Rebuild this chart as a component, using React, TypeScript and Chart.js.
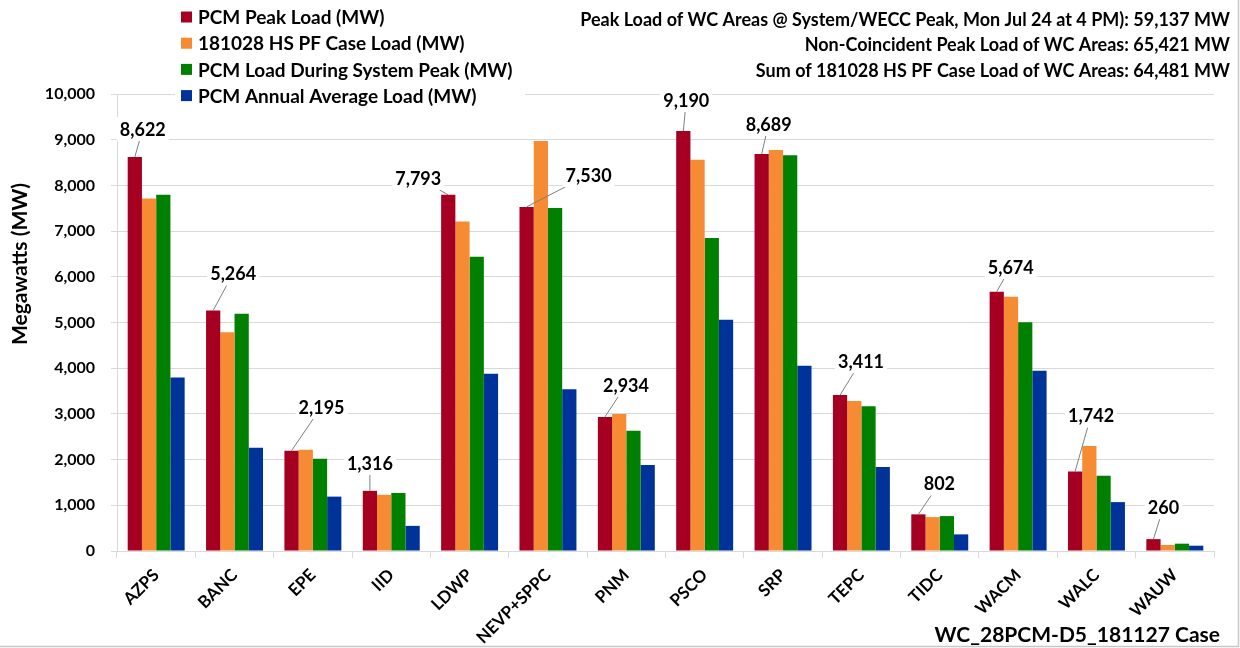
import React, { useEffect, useRef } from "react";
import { Chart, registerables } from "chart.js";

Chart.register(...registerables);

const areas = ["AZPS", "BANC", "EPE", "IID", "LDWP", "NEVP+SPPC", "PNM", "PSCO", "SRP", "TEPC", "TIDC", "WACM", "WALC", "WAUW"];
const pcmPeakLoad = [8622, 5264, 2195, 1316, 7793, 7530, 2934, 9190, 8689, 3411, 802, 5674, 1742, 260];
const hsPfCaseLoad = [7714, 4788, 2215, 1230, 7212, 8974, 2998, 8559, 8777, 3280, 742, 5561, 2299, 131];
const pcmLoadAtSystemPeak = [7795, 5190, 2020, 1270, 6441, 7504, 2630, 6849, 8661, 3170, 764, 5007, 1644, 160];
const pcmAnnualAverageLoad = [3799, 2260, 1190, 550, 3880, 3537, 1882, 5059, 4054, 1838, 364, 3945, 1070, 116];
const seriesLabels = [
  "PCM Peak Load (MW)",
  "181028 HS PF Case Load (MW)",
  "PCM Load During System Peak (MW)",
  "PCM Annual Average Load (MW)",
];
const yTickValues = [0, 1000, 2000, 3000, 4000, 5000, 6000, 7000, 8000, 9000, 10000];
const summaryLines = [
  "Peak Load of WC Areas @ System/WECC Peak, Mon Jul 24 at 4 PM): 59,137 MW",
  "Non-Coincident Peak Load of WC Areas: 65,421 MW",
  "Sum of 181028 HS PF Case Load of WC Areas: 64,481 MW",
];
const caseLabel = "WC_28PCM-D5_181127 Case";
const yAxisTitle = "Megawatts (MW)";

const colors = ["#A50021", "#F68B33", "#008000", "#003399"];
// callout offsets (px) of each peak-load label from its bar top
const calloutOffsets: [number, number][] = [
  [8, -28], [20, -37], [30, -44], [0, -28], [-30, -17], [62, -32], [21, -32],
  [3, -31], [7, -30], [21, -34], [21, -31], [14, -25], [16, -56], [10, -32],
];

const FONT = "Lato";
const fmt = (v: number) => Number(v).toLocaleString("en-US");

const decorPlugin = {
  id: "decor",
  afterDatasetsDraw(chart: any) {
    const ctx = chart.ctx as CanvasRenderingContext2D;
    ctx.save();

    // peak-load callouts
    const meta = chart.getDatasetMeta(0);
    ctx.font = `bold 18px ${FONT}`;
    ctx.textAlign = "center";
    ctx.textBaseline = "middle";
    meta.data.forEach((el: any, i: number) => {
      const v = chart.data.datasets[0].data[i];
      const txt = fmt(v);
      const [dx, dy] = calloutOffsets[i];
      const ax = el.x, ay = el.y;
      const cx = ax + dx, cy = ay + dy;
      const w = ctx.measureText(txt).width;
      const hx = w / 2 + 3, hy = 12;
      const f = Math.min(dx === 0 ? Infinity : hx / Math.abs(dx), dy === 0 ? Infinity : hy / Math.abs(dy));
      const t = 1 - f;
      if (t > 0) {
        ctx.strokeStyle = "#7f7f7f";
        ctx.lineWidth = 1;
        ctx.beginPath();
        ctx.moveTo(ax, ay);
        ctx.lineTo(ax + dx * t, ay + dy * t);
        ctx.stroke();
      }
      ctx.fillStyle = "#ffffff";
      ctx.fillRect(cx - hx, cy - hy, hx * 2, hy * 2);
      ctx.fillStyle = "#000000";
      ctx.fillText(txt, cx, cy + 1);
    });

    // legend
    ctx.fillStyle = "#ffffff";
    ctx.fillRect(175, 0, 350, 108);
    ctx.font = `bold 19px ${FONT}`;
    ctx.textAlign = "left";
    ctx.textBaseline = "middle";
    chart.data.datasets.forEach((ds: any, i: number) => {
      const y = 17 + i * 26.2;
      ctx.fillStyle = ds.backgroundColor;
      ctx.fillRect(181, y - 5.5, 11, 11);
      ctx.fillStyle = "#000000";
      ctx.fillText(ds.label, 198, y + 1);
    });

    // summary text (top right)
    ctx.font = `bold 18px ${FONT}`;
    ctx.textAlign = "right";
    summaryLines.forEach((line, i) => {
      ctx.fillText(line, 1230, 20 + i * 25.5);
    });

    // case label (bottom right)
    ctx.font = `bold 21px ${FONT}`;
    ctx.fillText(caseLabel, 1220, 635);

    // y axis title
    ctx.save();
    ctx.translate(20, 264);
    ctx.rotate(-Math.PI / 2);
    ctx.textAlign = "center";
    ctx.font = `bold 21px ${FONT}`;
    ctx.fillText(yAxisTitle, 0, 0);
    ctx.restore();

    // frame
    ctx.strokeStyle = "#c8c8c8";
    ctx.lineWidth = 1.5;
    ctx.beginPath();
    ctx.moveTo(1238.5, 0);
    ctx.lineTo(1238.5, 646.5);
    ctx.lineTo(0, 646.5);
    ctx.stroke();

    ctx.restore();
  },
};

export default function App() {
  const ref = useRef<HTMLCanvasElement>(null);
  useEffect(() => {
    Chart.defaults.font.family = FONT;
    Chart.defaults.font.weight = "bold";
    Chart.defaults.color = "#000000";
    const series = [pcmPeakLoad, hsPfCaseLoad, pcmLoadAtSystemPeak, pcmAnnualAverageLoad];
    const chart = new Chart(ref.current!, {
      type: "bar",
      data: {
        labels: areas,
        datasets: series.map((d, i) => ({
          label: seriesLabels[i],
          data: d,
          backgroundColor: colors[i],
          borderWidth: 0,
          barPercentage: 1.0,
          categoryPercentage: 0.727,
        })),
      },
      options: {
        animation: false,
        responsive: true,
        maintainAspectRatio: false,
        layout: { padding: { top: 94, right: 26, left: 0, bottom: 0 } },
        plugins: {
          legend: { display: false },
          tooltip: { enabled: false },
          title: { display: false },
        },
        scales: {
          x: {
            afterFit: (s: any) => { s.height = 97; },
            grid: {
              offset: true,
              drawOnChartArea: false,
              drawTicks: true,
              tickLength: 7,
              color: "#d9d9d9",
            },
            border: { display: true, color: "#d9d9d9" },
            ticks: {
              minRotation: 45,
              maxRotation: 45,
              autoSkip: false,
              font: { family: FONT, size: 17, weight: "bold" },
              color: "#000000",
              padding: 7,
            },
          },
          y: {
            min: 0,
            max: 10000,
            afterFit: (s: any) => { s.width = 117; },
            afterBuildTicks: (s: any) => { s.ticks = yTickValues.map((v) => ({ value: v })); },
            grid: { color: "#d9d9d9", tickLength: 6 },
            border: { display: true, color: "#d9d9d9" },
            ticks: {
              padding: 16,
              font: { family: FONT, size: 16, weight: "bold" },
              color: "#000000",
              callback: (v: any) => fmt(v),
            },
          },
        },
      },
      plugins: [decorPlugin],
    });
    return () => chart.destroy();
  }, []);
  return (
    <div style={{ position: "absolute", left: 0, top: 0, width: 1240, height: 648, background: "#ffffff" }}>
      <canvas ref={ref} />
    </div>
  );
}
